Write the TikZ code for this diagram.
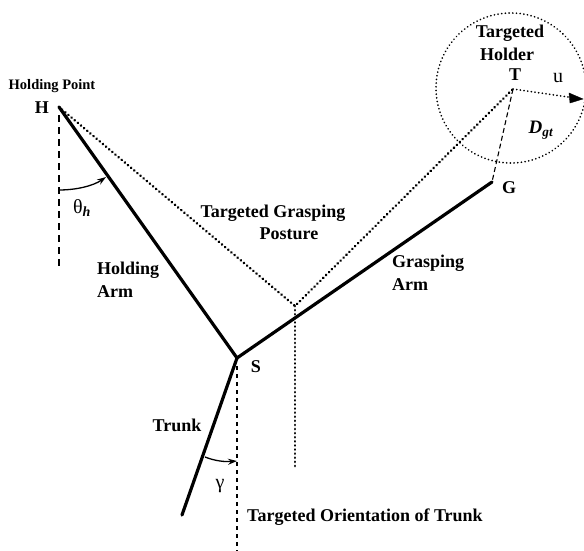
\documentclass[tikz,border=0pt]{standalone}
\usepackage{fontspec}
\setmainfont{Liberation Serif}
\usetikzlibrary{arrows.meta}
\tikzset{
  arm/.style={line width=3.2pt, line cap=round},
  posture/.style={line width=2.8pt, dash pattern=on 0.1pt off 4pt, line cap=round},
  thindot/.style={line width=1.8pt, dash pattern=on 0.1pt off 3.6pt, line cap=round},
  guide/.style={line width=1.3pt, dash pattern=on 7pt off 5pt},
  fineguide/.style={line width=1.2pt, dash pattern=on 4pt off 4pt},
  lbl/.style={font=\fontsize{18}{20}\selectfont\bfseries, inner sep=0pt},
  small/.style={font=\fontsize{14.5}{16}\selectfont\bfseries, inner sep=0pt},
  angarrow/.style={line width=1.3pt, -{Stealth[length=9pt,width=6pt]}},
}
\begin{document}
\begin{tikzpicture}[x=1pt,y=-1pt]
\useasboundingbox (0,0) rectangle (584,551);
% key points
\coordinate (H) at (59,107);
\coordinate (S) at (237,358);
\coordinate (G) at (492,182);
\coordinate (T) at (513,89);
\coordinate (B) at (182,515);
\coordinate (P) at (295,306);
\coordinate (Pend) at (295,468);
\coordinate (Hv) at (59,268);
\coordinate (Sv) at (237,551);
\coordinate (U) at (583,99);
\coordinate (C) at (511,88);
% targeted holder circle
\draw[thindot] (C) circle (75);
% guides
\draw[guide] (H) ++(0,8) -- (Hv);
\draw[fineguide] (S) ++(0,8) -- (Sv);
\draw[line width=1.1pt, dash pattern=on 5pt off 3pt] (T) -- (G);
% targeted grasping posture
\draw[posture] (H) -- (P) -- (T);
\draw[posture] (P) -- (Pend);
% u arrow
\draw[thindot] (T) -- (575,98);
\draw[fill=black] (U) -- (569,93) -- (570,103) -- cycle;
% arms and trunk
\draw[arm, line join=round] (H) -- (S) -- (G);
\draw[arm] (S) -- (B);
% angle arcs
\draw[angarrow] (59,190) .. controls (76,190) and (93,186) .. (106,177);
\draw[angarrow] (205,457) .. controls (215,461) and (225,462) .. (237,461);
% labels
\node[small] (hp) at (52,86) {Holding Point};
\node[lbl] (lH) at (42,108) {H};
\node[lbl] (lS) at (256,367) {S};
\node[lbl] (lG) at (509,188) {G};
\node[lbl] (lT) at (515,75) {T};
\node[font=\fontsize{20}{22}\selectfont, inner sep=0pt] (lu) at (558,78) {u};
\node[lbl, font=\fontsize{19}{21}\selectfont\bfseries\itshape] (ld) at (541,130) {D\textsubscript{gt}};
\node[font=\fontsize{20}{22}\selectfont, inner sep=0pt] (lth) at (82,208) {θ\textsubscript{\textbf{\textit{h}}}};
\node[font=\fontsize{20}{22}\selectfont, inner sep=0pt] (lg) at (220,486) {γ};
\node[lbl] (th1) at (510,33) {Targeted};
\node[lbl] (th2) at (507,54) {Holder};
\node[lbl] (tg1) at (273,213) {Targeted Grasping};
\node[lbl] (tg2) at (289,234) {Posture};
\node[lbl, anchor=west] (ha1) at (97,270) {Holding};
\node[lbl, anchor=west] (ha2) at (97,292) {Arm};
\node[lbl, anchor=west] (ga1) at (392,263) {Grasping};
\node[lbl, anchor=west] (ga2) at (392,285) {Arm};
\node[lbl] (tr) at (177,425) {Trunk};
\node[lbl, anchor=west] (to) at (247,517) {Targeted Orientation of Trunk};
\end{tikzpicture}
\end{document}
